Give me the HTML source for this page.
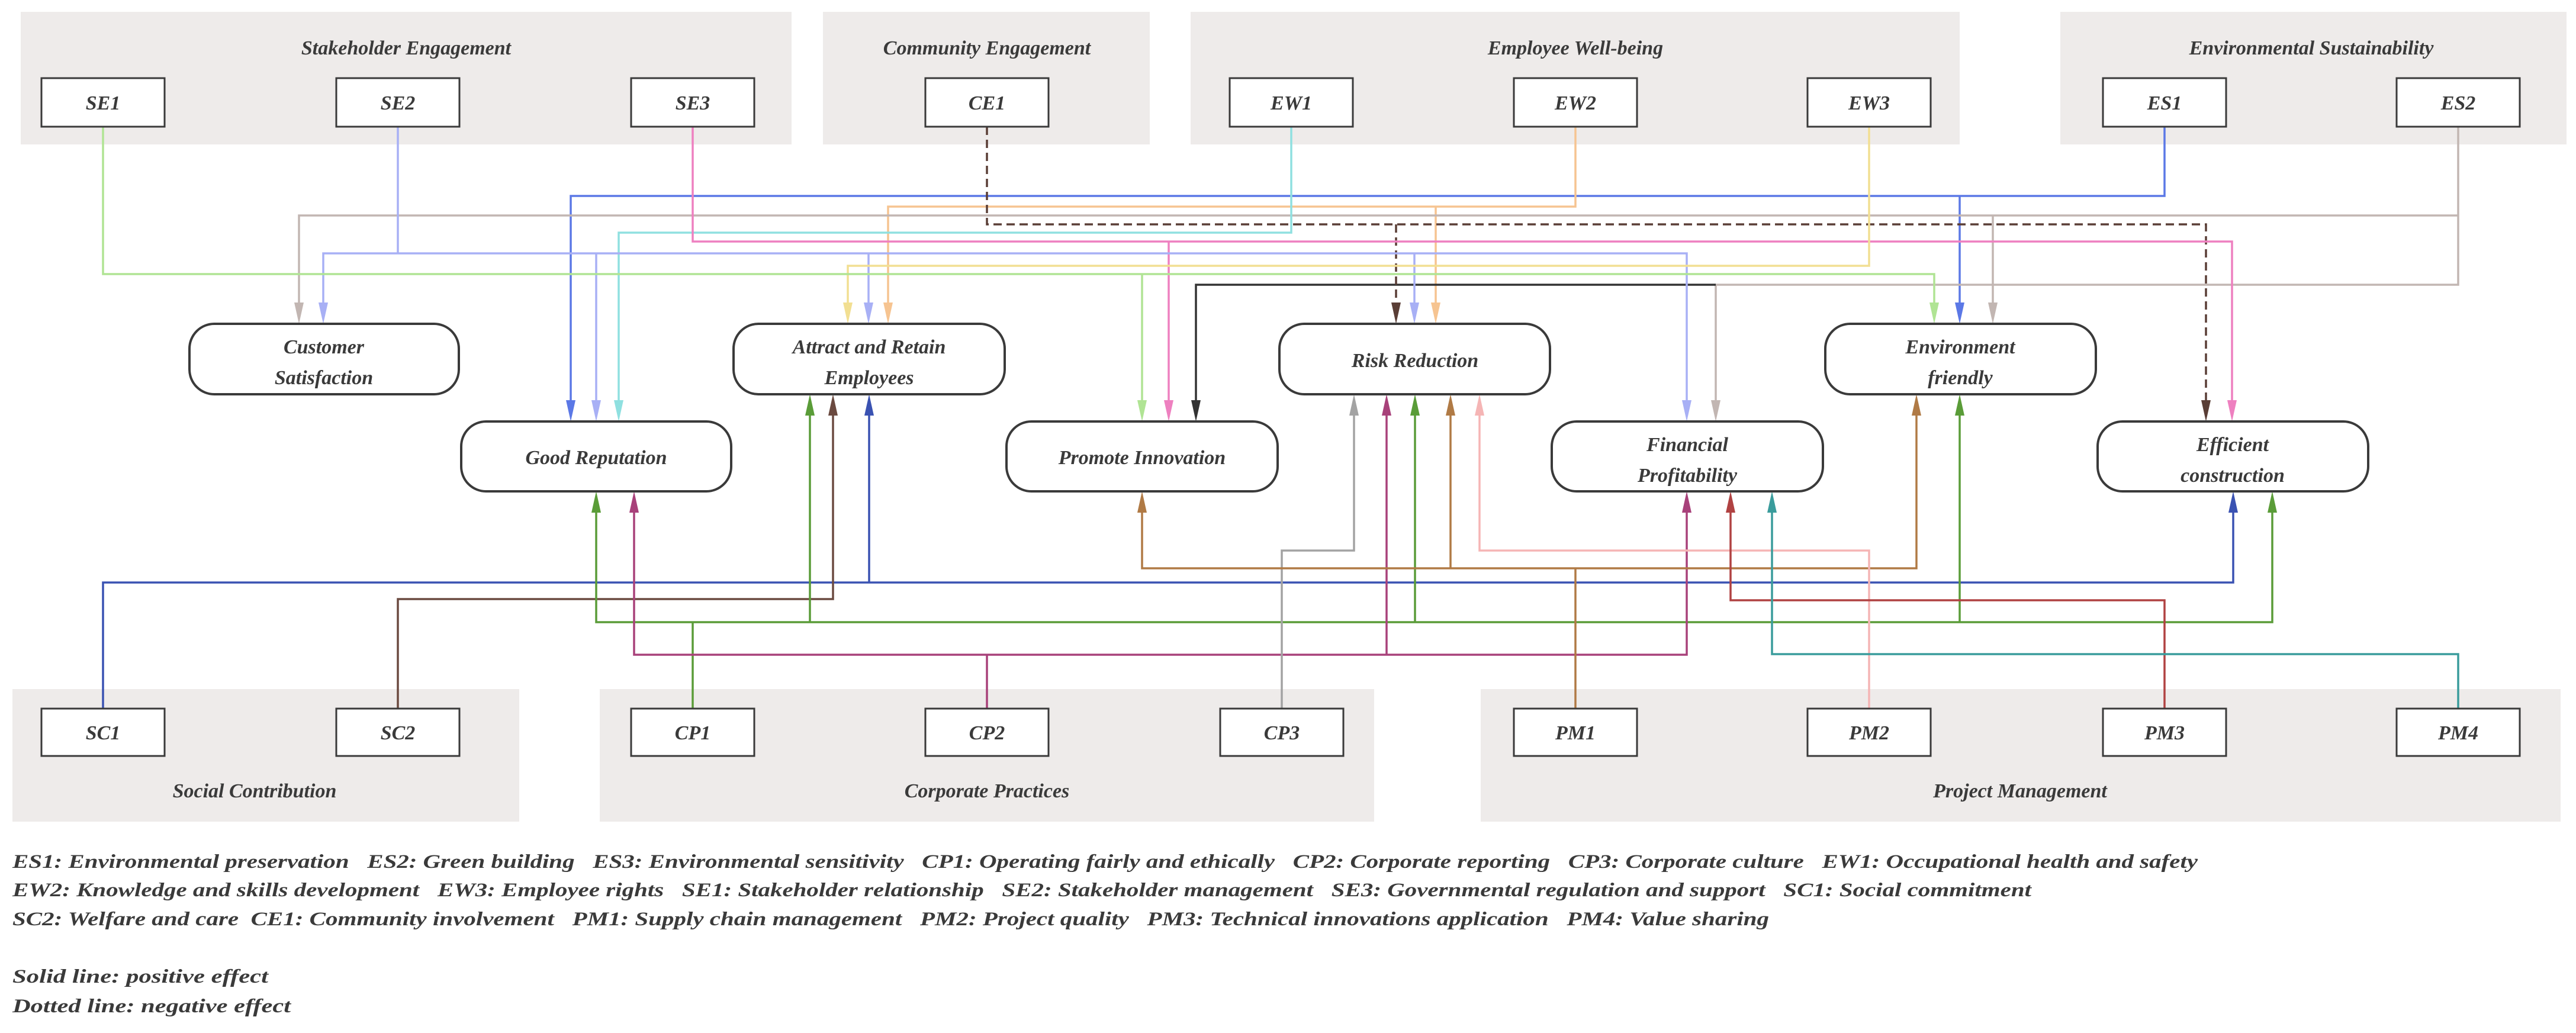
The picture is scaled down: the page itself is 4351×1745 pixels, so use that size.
<!DOCTYPE html>
<html><head><meta charset="utf-8"><style>
html,body{margin:0;padding:0;background:#fff;}
svg{display:block;}
text{font-family:"Liberation Serif",serif;font-style:italic;font-weight:bold;fill:#3a3a3a;}
.lg text{white-space:pre;}
</style></head><body>
<svg width="4351" height="1745" viewBox="0 0 4351 1745" xmlns="http://www.w3.org/2000/svg">
<g fill="#eeebea">
<rect x="35" y="20" width="1302" height="224"/>
<rect x="1390" y="20" width="552" height="224"/>
<rect x="2011" y="20" width="1299" height="224"/>
<rect x="3480" y="20" width="855" height="224"/>
<rect x="21" y="1164" width="856" height="224"/>
<rect x="1013" y="1164" width="1308" height="224"/>
<rect x="2501" y="1164" width="1824" height="224"/>
</g>
<g font-size="34" text-anchor="middle">
<text x="686" y="92">Stakeholder Engagement</text>
<text x="1667" y="92">Community Engagement</text>
<text x="2661" y="92">Employee Well-being</text>
<text x="3904" y="92">Environmental Sustainability</text>
<text x="430" y="1347">Social Contribution</text>
<text x="1667" y="1347">Corporate Practices</text>
<text x="3412" y="1347">Project Management</text>
</g>

<g fill="none" stroke-width="3.5">
<path d="M3656 214 V331 H964 V676 M3310 331 V511" stroke="#5b78e6"/>
<path d="M2661 214 V349 H1500 V511 M2425 349 V511" stroke="#f6c491"/>
<path d="M4152 214 V481 H2898 V676 M4152 364 H505 V511 M3366 364 V511" stroke="#c2b6b2"/>
<path d="M2898 481 H2020 V676" stroke="#333"/>
<path d="M1667 214 V379 H3726 V676 M2358 379 V511" stroke="#5a3e36" stroke-dasharray="14 8"/>
<path d="M2181 214 V393 H1045 V676" stroke="#8fe0e0"/>
<path d="M1170 214 V408 H3770 V676 M1974 408 V676" stroke="#ee80c0"/>
<path d="M672 214 V428 M546 511 V428 H2849 V676 M1007 428 V676 M1467 428 V511 M2389 428 V511" stroke="#a8b0f5"/>
<path d="M3157 214 V449 H1432 V511" stroke="#f2df92"/>
<path d="M174 214 V463 H3267 V511 M1929 463 V676" stroke="#b0e494"/>

<path d="M174 1197 V984 H3772 V866 M1468 984 V702" stroke="#3a52b2"/>
<path d="M672 1197 V1012 H1407 V702" stroke="#6b4a40"/>
<path d="M1170 1197 V1051 M1007 866 V1051 H3838 V866 M1368 1051 V702 M2390 1051 V702 M3310 1051 V702" stroke="#5a9c38"/>
<path d="M1667 1197 V1106 M1071 866 V1106 H2849 V866 M2342 1106 V702" stroke="#a8417a"/>
<path d="M2165 1197 V930 H2287 V702" stroke="#a3a3a3"/>
<path d="M2661 1197 V960 H1929 V866 M2450 960 V702 M2661 960 H3237 V702" stroke="#b07a45"/>
<path d="M3157 1197 V930 H2499 V702" stroke="#f5b5b5"/>
<path d="M3656 1197 V1014 H2923 V866" stroke="#b04242"/>
<path d="M4152 1197 V1105 H2993 V866" stroke="#3a9c9c"/>
</g>

<g>
<polygon points="956,676 972,676 964,712" fill="#5b78e6"/>
<polygon points="3302,511 3318,511 3310,547" fill="#5b78e6"/>
<polygon points="1492,511 1508,511 1500,547" fill="#f6c491"/>
<polygon points="2417,511 2433,511 2425,547" fill="#f6c491"/>
<polygon points="497,511 513,511 505,547" fill="#c2b6b2"/>
<polygon points="3358,511 3374,511 3366,547" fill="#c2b6b2"/>
<polygon points="2890,676 2906,676 2898,712" fill="#c2b6b2"/>
<polygon points="2012,676 2028,676 2020,712" fill="#333"/>
<polygon points="3718,676 3734,676 3726,712" fill="#5a3e36"/>
<polygon points="2350,511 2366,511 2358,547" fill="#5a3e36"/>
<polygon points="1037,676 1053,676 1045,712" fill="#8fe0e0"/>
<polygon points="3762,676 3778,676 3770,712" fill="#ee80c0"/>
<polygon points="1966,676 1982,676 1974,712" fill="#ee80c0"/>
<polygon points="538,511 554,511 546,547" fill="#a8b0f5"/>
<polygon points="999,676 1015,676 1007,712" fill="#a8b0f5"/>
<polygon points="1459,511 1475,511 1467,547" fill="#a8b0f5"/>
<polygon points="2381,511 2397,511 2389,547" fill="#a8b0f5"/>
<polygon points="2841,676 2857,676 2849,712" fill="#a8b0f5"/>
<polygon points="1424,511 1440,511 1432,547" fill="#f2df92"/>
<polygon points="3259,511 3275,511 3267,547" fill="#b0e494"/>
<polygon points="1921,676 1937,676 1929,712" fill="#b0e494"/>
<polygon points="3764,866 3780,866 3772,830" fill="#3a52b2"/>
<polygon points="1460,702 1476,702 1468,666" fill="#3a52b2"/>
<polygon points="1399,702 1415,702 1407,666" fill="#6b4a40"/>
<polygon points="999,866 1015,866 1007,830" fill="#5a9c38"/>
<polygon points="3830,866 3846,866 3838,830" fill="#5a9c38"/>
<polygon points="1360,702 1376,702 1368,666" fill="#5a9c38"/>
<polygon points="2382,702 2398,702 2390,666" fill="#5a9c38"/>
<polygon points="3302,702 3318,702 3310,666" fill="#5a9c38"/>
<polygon points="1063,866 1079,866 1071,830" fill="#a8417a"/>
<polygon points="2841,866 2857,866 2849,830" fill="#a8417a"/>
<polygon points="2334,702 2350,702 2342,666" fill="#a8417a"/>
<polygon points="2279,702 2295,702 2287,666" fill="#a3a3a3"/>
<polygon points="1921,866 1937,866 1929,830" fill="#b07a45"/>
<polygon points="2442,702 2458,702 2450,666" fill="#b07a45"/>
<polygon points="3229,702 3245,702 3237,666" fill="#b07a45"/>
<polygon points="2491,702 2507,702 2499,666" fill="#f5b5b5"/>
<polygon points="2915,866 2931,866 2923,830" fill="#b04242"/>
<polygon points="2985,866 3001,866 2993,830" fill="#3a9c9c"/>
</g>

<g fill="#fff" stroke="#3a3a3a" stroke-width="3">
<rect x="70" y="132" width="208" height="82"/>
<rect x="568" y="132" width="208" height="82"/>
<rect x="1066" y="132" width="208" height="82"/>
<rect x="1563" y="132" width="208" height="82"/>
<rect x="2077" y="132" width="208" height="82"/>
<rect x="2557" y="132" width="208" height="82"/>
<rect x="3053" y="132" width="208" height="82"/>
<rect x="3552" y="132" width="208" height="82"/>
<rect x="4048" y="132" width="208" height="82"/>
<rect x="70" y="1197" width="208" height="80"/>
<rect x="568" y="1197" width="208" height="80"/>
<rect x="1066" y="1197" width="208" height="80"/>
<rect x="1563" y="1197" width="208" height="80"/>
<rect x="2061" y="1197" width="208" height="80"/>
<rect x="2557" y="1197" width="208" height="80"/>
<rect x="3053" y="1197" width="208" height="80"/>
<rect x="3552" y="1197" width="208" height="80"/>
<rect x="4048" y="1197" width="208" height="80"/>
</g>
<g font-size="34" text-anchor="middle">
<text x="174" y="185">SE1</text><text x="672" y="185">SE2</text><text x="1170" y="185">SE3</text>
<text x="1667" y="185">CE1</text><text x="2181" y="185">EW1</text><text x="2661" y="185">EW2</text>
<text x="3157" y="185">EW3</text><text x="3656" y="185">ES1</text><text x="4152" y="185">ES2</text>
<text x="174" y="1249">SC1</text><text x="672" y="1249">SC2</text><text x="1170" y="1249">CP1</text>
<text x="1667" y="1249">CP2</text><text x="2165" y="1249">CP3</text><text x="2661" y="1249">PM1</text>
<text x="3157" y="1249">PM2</text><text x="3656" y="1249">PM3</text><text x="4152" y="1249">PM4</text>
</g>

<g fill="#fff" stroke="#3a3a3a" stroke-width="4">
<rect x="320" y="547" width="455" height="119" rx="42"/>
<rect x="1239" y="547" width="458" height="119" rx="42"/>
<rect x="2161" y="547" width="457" height="119" rx="42"/>
<rect x="3083" y="547" width="457" height="119" rx="42"/>
<rect x="779" y="712" width="456" height="118" rx="42"/>
<rect x="1700" y="712" width="458" height="118" rx="42"/>
<rect x="2621" y="712" width="458" height="118" rx="42"/>
<rect x="3543" y="712" width="457" height="118" rx="42"/>
</g>
<g font-size="34" text-anchor="middle">
<text x="547" y="597">Customer</text><text x="547" y="649">Satisfaction</text>
<text x="1468" y="597">Attract and Retain</text><text x="1468" y="649">Employees</text>
<text x="2390" y="620">Risk Reduction</text>
<text x="3311" y="597">Environment</text><text x="3311" y="649">friendly</text>
<text x="1007" y="784">Good Reputation</text>
<text x="1929" y="784">Promote Innovation</text>
<text x="2850" y="762">Financial</text><text x="2850" y="814">Profitability</text>
<text x="3771" y="762">Efficient</text><text x="3771" y="814">construction</text>
</g>

<g font-size="33" class="lg">
<text x="21" y="1466" textLength="3691" lengthAdjust="spacingAndGlyphs" xml:space="preserve">ES1: Environmental preservation   ES2: Green building   ES3: Environmental sensitivity   CP1: Operating fairly and ethically   CP2: Corporate reporting   CP3: Corporate culture   EW1: Occupational health and safety</text>
<text x="21" y="1514" textLength="3410" lengthAdjust="spacingAndGlyphs" xml:space="preserve">EW2: Knowledge and skills development   EW3: Employee rights   SE1: Stakeholder relationship   SE2: Stakeholder management   SE3: Governmental regulation and support   SC1: Social commitment</text>
<text x="21" y="1563" textLength="2967" lengthAdjust="spacingAndGlyphs" xml:space="preserve">SC2: Welfare and care  CE1: Community involvement   PM1: Supply chain management   PM2: Project quality   PM3: Technical innovations application   PM4: Value sharing</text>
<text x="21" y="1660" textLength="432" lengthAdjust="spacingAndGlyphs">Solid line: positive effect</text>
<text x="21" y="1710" textLength="470" lengthAdjust="spacingAndGlyphs">Dotted line: negative effect</text>
</g>
</svg>
</body></html>
